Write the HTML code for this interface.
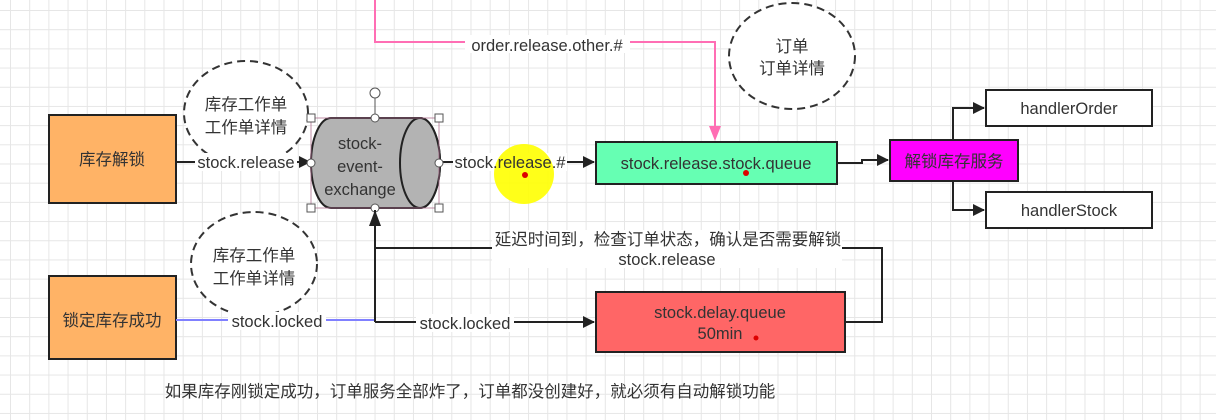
<!DOCTYPE html>
<html><head><meta charset="utf-8"><style>
body{margin:0;width:1216px;height:420px;overflow:hidden;background:#fff;
background-image:linear-gradient(#e6e6e6 1px,transparent 1px),linear-gradient(90deg,#e6e6e6 1px,transparent 1px);
background-size:19.2px 19.2px;background-position:10px 10px;}
svg{position:absolute;left:0;top:0}
text{font-family:"Liberation Sans","Noto Sans CJK SC",sans-serif;font-size:16.5px;fill:#333}
</style></head><body>
<svg width="1216" height="420" viewBox="0 0 1216 420">
<defs><marker id="a" markerWidth="12" markerHeight="12" refX="11" refY="6" orient="auto" markerUnits="userSpaceOnUse"><path d="M0,0L12,6L0,12z" fill="#222"/></marker></defs>
<!-- pink -->
<polyline points="375,0 375,42 715,42 715,128" fill="none" stroke="#ff6eb4" stroke-width="2"/>
<path d="M709,126L721,126L715,141z" fill="#ff6eb4"/>
<rect x="465" y="35" width="165" height="18" fill="#fff"/>
<text x="547" y="51" text-anchor="middle">order.release.other.#</text>
<!-- ellipses -->
<ellipse cx="246" cy="113" rx="62" ry="52" fill="#fff" stroke="#333" stroke-width="2" stroke-dasharray="8,5"/>
<text x="246" y="110" text-anchor="middle">库存工作单</text><text x="246" y="133" text-anchor="middle">工作单详情</text>
<ellipse cx="254" cy="264" rx="63" ry="52" fill="#fff" stroke="#333" stroke-width="2" stroke-dasharray="8,5"/>
<text x="254" y="261" text-anchor="middle">库存工作单</text><text x="254" y="284" text-anchor="middle">工作单详情</text>
<ellipse cx="792" cy="56" rx="63" ry="53" fill="#fff" stroke="#333" stroke-width="2" stroke-dasharray="8,5"/>
<text x="792" y="52" text-anchor="middle">订单</text><text x="792" y="74" text-anchor="middle">订单详情</text>
<!-- boxes -->
<rect x="49" y="115" width="127" height="88" fill="#ffb366" stroke="#222" stroke-width="2"/>
<text x="112" y="165" text-anchor="middle">库存解锁</text>
<rect x="49" y="276" width="127" height="83" fill="#ffb366" stroke="#222" stroke-width="2"/>
<text x="112" y="326" text-anchor="middle">锁定库存成功</text>
<!-- connectors -->
<line x1="176" y1="162" x2="310" y2="162" stroke="#222" stroke-width="2" marker-end="url(#a)"/>
<rect x="195" y="153" width="102" height="18" fill="#fff"/>
<text x="246" y="168" text-anchor="middle">stock.release</text>
<line x1="439" y1="162" x2="594" y2="162" stroke="#222" stroke-width="2" marker-end="url(#a)"/>
<rect x="453" y="153" width="114" height="18" fill="#fff"/>
<circle cx="524" cy="174" r="30" fill="#ffff00" opacity="0.9"/>
<text x="510" y="168" text-anchor="middle">stock.release.#</text>
<circle cx="525" cy="175" r="3" fill="#d00"/>
<!-- cylinder -->
<path d="M331,118 L420,118 A20,45 0 0 1 420,208 L331,208 A20,45 0 0 1 331,118z" fill="#b3b3b3" stroke="#222" stroke-width="2"/>
<ellipse cx="420" cy="163" rx="20" ry="45" fill="#b3b3b3" stroke="#222" stroke-width="2"/>
<text x="360" y="149" text-anchor="middle">stock-</text>
<text x="360" y="172" text-anchor="middle">event-</text>
<text x="360" y="195" text-anchor="middle">exchange</text>
<rect x="311" y="118" width="128" height="90" fill="none" stroke="#b07090" stroke-width="0.8"/>
<g fill="#fff" stroke="#555" stroke-width="1">
<rect x="307" y="114" width="8" height="8"/><rect x="435" y="114" width="8" height="8"/><rect x="307" y="204" width="8" height="8"/><rect x="435" y="204" width="8" height="8"/>
<circle cx="375" cy="118" r="4"/><circle cx="375" cy="208" r="4"/><circle cx="311" cy="163" r="4"/><circle cx="439" cy="163" r="4"/>
<line x1="375" y1="98" x2="375" y2="114"/><circle cx="375" cy="93" r="5"/></g>
<!-- green -->
<rect x="596" y="142" width="241" height="42" fill="#66ffb3" stroke="#222" stroke-width="2"/>
<text x="716" y="169" text-anchor="middle">stock.release.stock.queue</text>
<circle cx="746" cy="173" r="3" fill="#d00"/>
<polyline points="837,163 862,163 862,160 888,160" fill="none" stroke="#222" stroke-width="2" marker-end="url(#a)"/>
<rect x="890" y="140" width="128" height="41" fill="#ff00ff" stroke="#222" stroke-width="2"/>
<text x="954" y="167" text-anchor="middle">解锁库存服务</text>
<polyline points="953,140 953,108 984,108" fill="none" stroke="#222" stroke-width="2" marker-end="url(#a)"/>
<polyline points="953,181 953,210 984,210" fill="none" stroke="#222" stroke-width="2" marker-end="url(#a)"/>
<rect x="986" y="90" width="166" height="36" fill="#fff" stroke="#222" stroke-width="2"/>
<text x="1069" y="114" text-anchor="middle">handlerOrder</text>
<rect x="986" y="192" width="166" height="36" fill="#fff" stroke="#222" stroke-width="2"/>
<text x="1069" y="216" text-anchor="middle">handlerStock</text>
<!-- delay -->
<polyline points="845,322 882,322 882,248 375,248 375,210" fill="none" stroke="#222" stroke-width="2"/>
<path d="M369,226L375,210L381,226z" fill="#222"/>
<rect x="492" y="230" width="350" height="38" fill="#fff"/>
<text x="668" y="245" text-anchor="middle">延迟时间到，检查订单状态，确认是否需要解锁</text>
<text x="667" y="265" text-anchor="middle">stock.release</text>
<line x1="176" y1="320" x2="375" y2="320" stroke="#8080ff" stroke-width="2"/>
<line x1="375" y1="248" x2="375" y2="322" stroke="#222" stroke-width="2"/>
<line x1="375" y1="322" x2="594" y2="322" stroke="#222" stroke-width="2" marker-end="url(#a)"/>
<rect x="228" y="312" width="98" height="18" fill="#fff"/>
<text x="277" y="327" text-anchor="middle">stock.locked</text>
<rect x="416" y="314" width="98" height="18" fill="#fff"/>
<text x="465" y="329" text-anchor="middle">stock.locked</text>
<rect x="596" y="292" width="249" height="60" fill="#ff6666" stroke="#222" stroke-width="2"/>
<text x="720" y="318" text-anchor="middle">stock.delay.queue</text>
<text x="720" y="339" text-anchor="middle">50min</text>
<circle cx="756" cy="338" r="2.5" fill="#d00"/>
<text x="470" y="397" text-anchor="middle">如果库存刚锁定成功，订单服务全部炸了，订单都没创建好，就必须有自动解锁功能</text>
</svg>
</body></html>
